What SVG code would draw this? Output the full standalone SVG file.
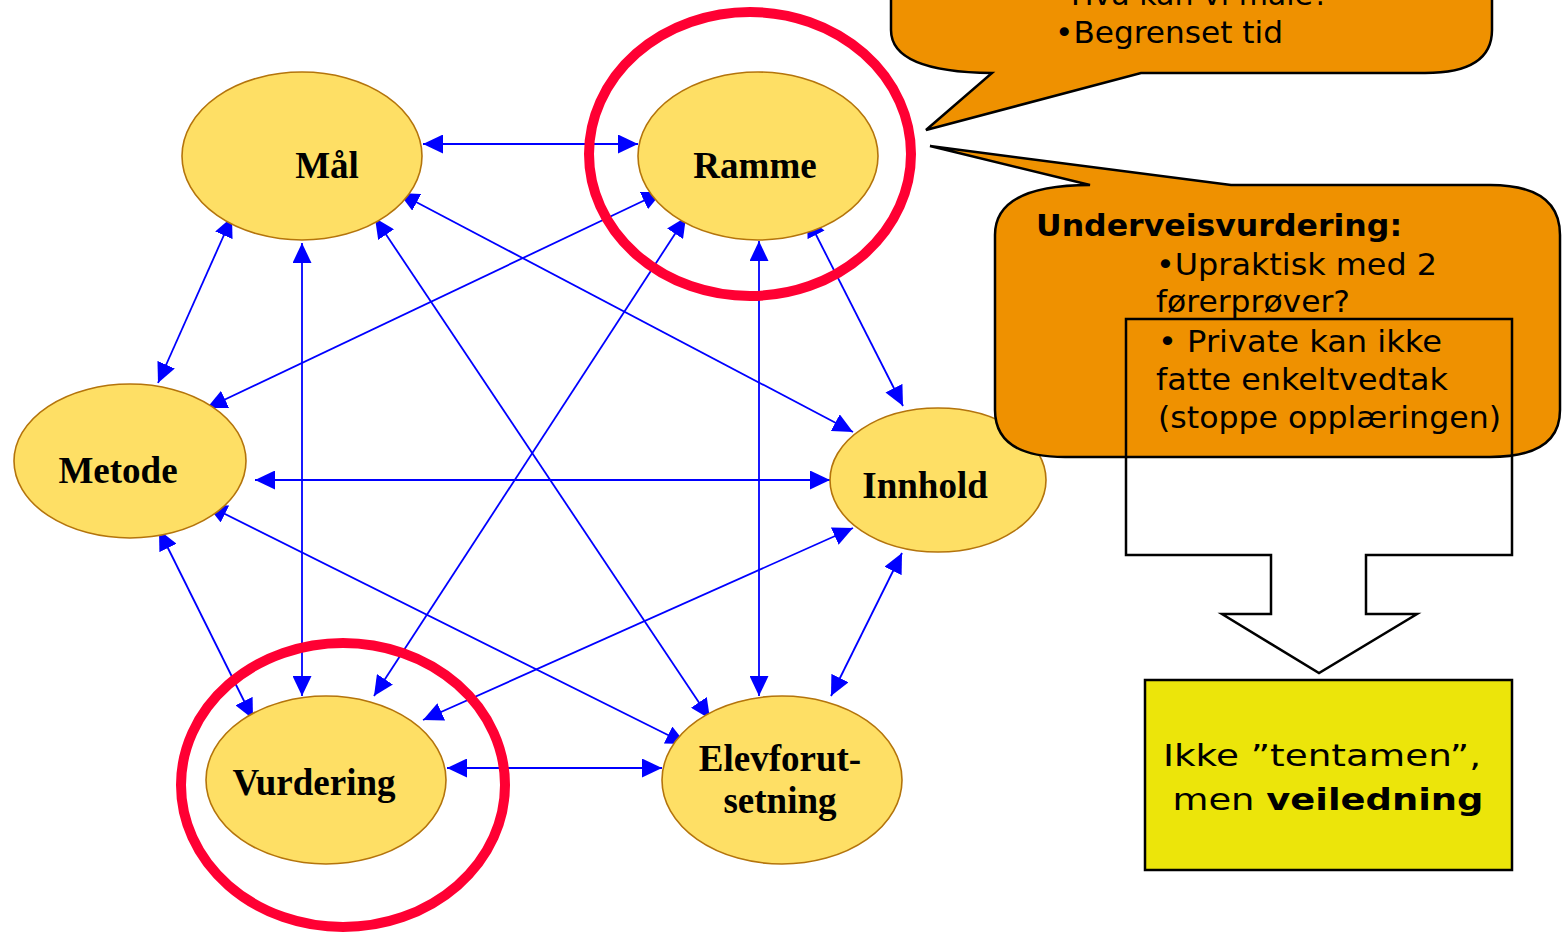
<svg xmlns="http://www.w3.org/2000/svg" width="1566" height="933" viewBox="0 0 1566 933">
<defs>
<marker id="ah" viewBox="0 0 20 19" refX="20" refY="9.5" markerWidth="20" markerHeight="19" markerUnits="userSpaceOnUse" orient="auto-start-reverse">
<path d="M0,0 L20,9.5 L0,19 Z" fill="#0000FF"/>
</marker>
<style>
.c line{stroke:#0000FF;stroke-width:1.8;marker-start:url(#ah);marker-end:url(#ah)}
.n ellipse{fill:#FEDF65;stroke:#B4740C;stroke-width:1.6}
.n text{font-family:"Liberation Serif","Times New Roman",serif;font-weight:bold;font-size:37px;text-anchor:middle;fill:#000}
.ring{fill:none;stroke:#FF0033;stroke-width:10}
.callout{fill:#EF9100;stroke:#000;stroke-width:2.5}
.ct{font-family:"DejaVu Sans",Verdana,sans-serif;font-size:30px;fill:#000}
</style>
</defs>
<rect width="1566" height="933" fill="#FFFFFF"/>

<g id="connectors" class="c">
<line x1="423" y1="144" x2="638" y2="144"/>
<line x1="232" y1="217" x2="158" y2="383"/>
<line x1="302" y1="243" x2="302" y2="696"/>
<line x1="399" y1="193" x2="853" y2="432"/>
<line x1="375" y1="218" x2="710" y2="719"/>
<line x1="662" y1="192" x2="207" y2="408"/>
<line x1="686" y1="217" x2="374" y2="696"/>
<line x1="759" y1="241" x2="759" y2="696"/>
<line x1="807" y1="217" x2="903" y2="406"/>
<line x1="255" y1="480" x2="830" y2="480"/>
<line x1="159" y1="530" x2="253" y2="719"/>
<line x1="207" y1="505" x2="686" y2="744"/>
<line x1="853" y1="528" x2="423" y2="720"/>
<line x1="902" y1="553" x2="831" y2="696"/>
<line x1="447" y1="768" x2="662" y2="768"/>
</g>

<g id="node-maal" class="n">
<ellipse cx="302" cy="156" rx="120" ry="84"/>
<text x="327" y="178">Mål</text>
</g>
<g id="node-ramme" class="n">
<ellipse cx="758" cy="156" rx="120" ry="84"/>
<text x="755" y="178">Ramme</text>
</g>
<g id="node-metode" class="n">
<ellipse cx="130" cy="461" rx="116" ry="77"/>
<text x="118" y="483">Metode</text>
</g>
<g id="node-innhold" class="n">
<ellipse cx="938" cy="480" rx="108" ry="72"/>
<text x="925" y="498">Innhold</text>
</g>
<g id="node-vurdering" class="n">
<ellipse cx="326" cy="780" rx="120" ry="84"/>
<text x="314" y="795">Vurdering</text>
</g>
<g id="node-elevforutsetning" class="n">
<ellipse cx="782" cy="780" rx="120" ry="84"/>
<text x="780" y="771">Elevforut-</text>
<text x="780" y="813">setning</text>
</g>

<g id="highlights">
<ellipse class="ring" cx="750" cy="154" rx="161" ry="142"/>
<ellipse class="ring" cx="343" cy="785" rx="162" ry="142"/>
</g>

<g id="callout-top">
<path class="callout" d="M891,-60 V30 Q891,72 992,73 L926,130 L1141,73 H1425 Q1492,73 1492,30 V-60 Z"/>
<text class="ct" x="1071" y="5">Hva kan vi måle?</text>
<text class="ct" x="1055" y="43" textLength="228" lengthAdjust="spacingAndGlyphs">•Begrenset tid</text>
</g>

<g id="callout-underveis">
<path class="callout" d="M1090,185 L930,146 L1231,185 H1490 Q1560,185 1560,235 V410 Q1560,457 1490,457 H1065 Q995,457 995,410 V235 Q995,185 1090,185 Z"/>
<text class="ct" x="1036" y="236" font-weight="bold" textLength="366" lengthAdjust="spacingAndGlyphs">Underveisvurdering:</text>
<text class="ct" x="1156" y="275" textLength="281" lengthAdjust="spacingAndGlyphs">•Upraktisk med 2</text>
<text class="ct" x="1156" y="312" textLength="194" lengthAdjust="spacingAndGlyphs">førerprøver?</text>
<text class="ct" x="1158" y="352" textLength="284" lengthAdjust="spacingAndGlyphs">• Private kan ikke</text>
<text class="ct" x="1156" y="390" textLength="292" lengthAdjust="spacingAndGlyphs">fatte enkeltvedtak</text>
<text class="ct" x="1158" y="428" textLength="343" lengthAdjust="spacingAndGlyphs">(stoppe opplæringen)</text>
</g>

<g id="block-arrow">
<path d="M1126,319 H1512 V555 H1366 V614 H1417 L1319,673 L1222,614 H1271 V555 H1126 Z" fill="none" stroke="#000" stroke-width="2.5"/>
</g>

<g id="conclusion">
<rect x="1145" y="680" width="367" height="190" fill="#ECE50A" stroke="#000" stroke-width="2.5"/>
<text class="ct" x="1322" y="766" font-size="33" text-anchor="middle" textLength="318" lengthAdjust="spacingAndGlyphs">Ikke ”tentamen”,</text>
<text class="ct" x="1328" y="810" font-size="33" text-anchor="middle" textLength="311" lengthAdjust="spacingAndGlyphs">men <tspan font-weight="bold">veiledning</tspan></text>
</g>
</svg>
